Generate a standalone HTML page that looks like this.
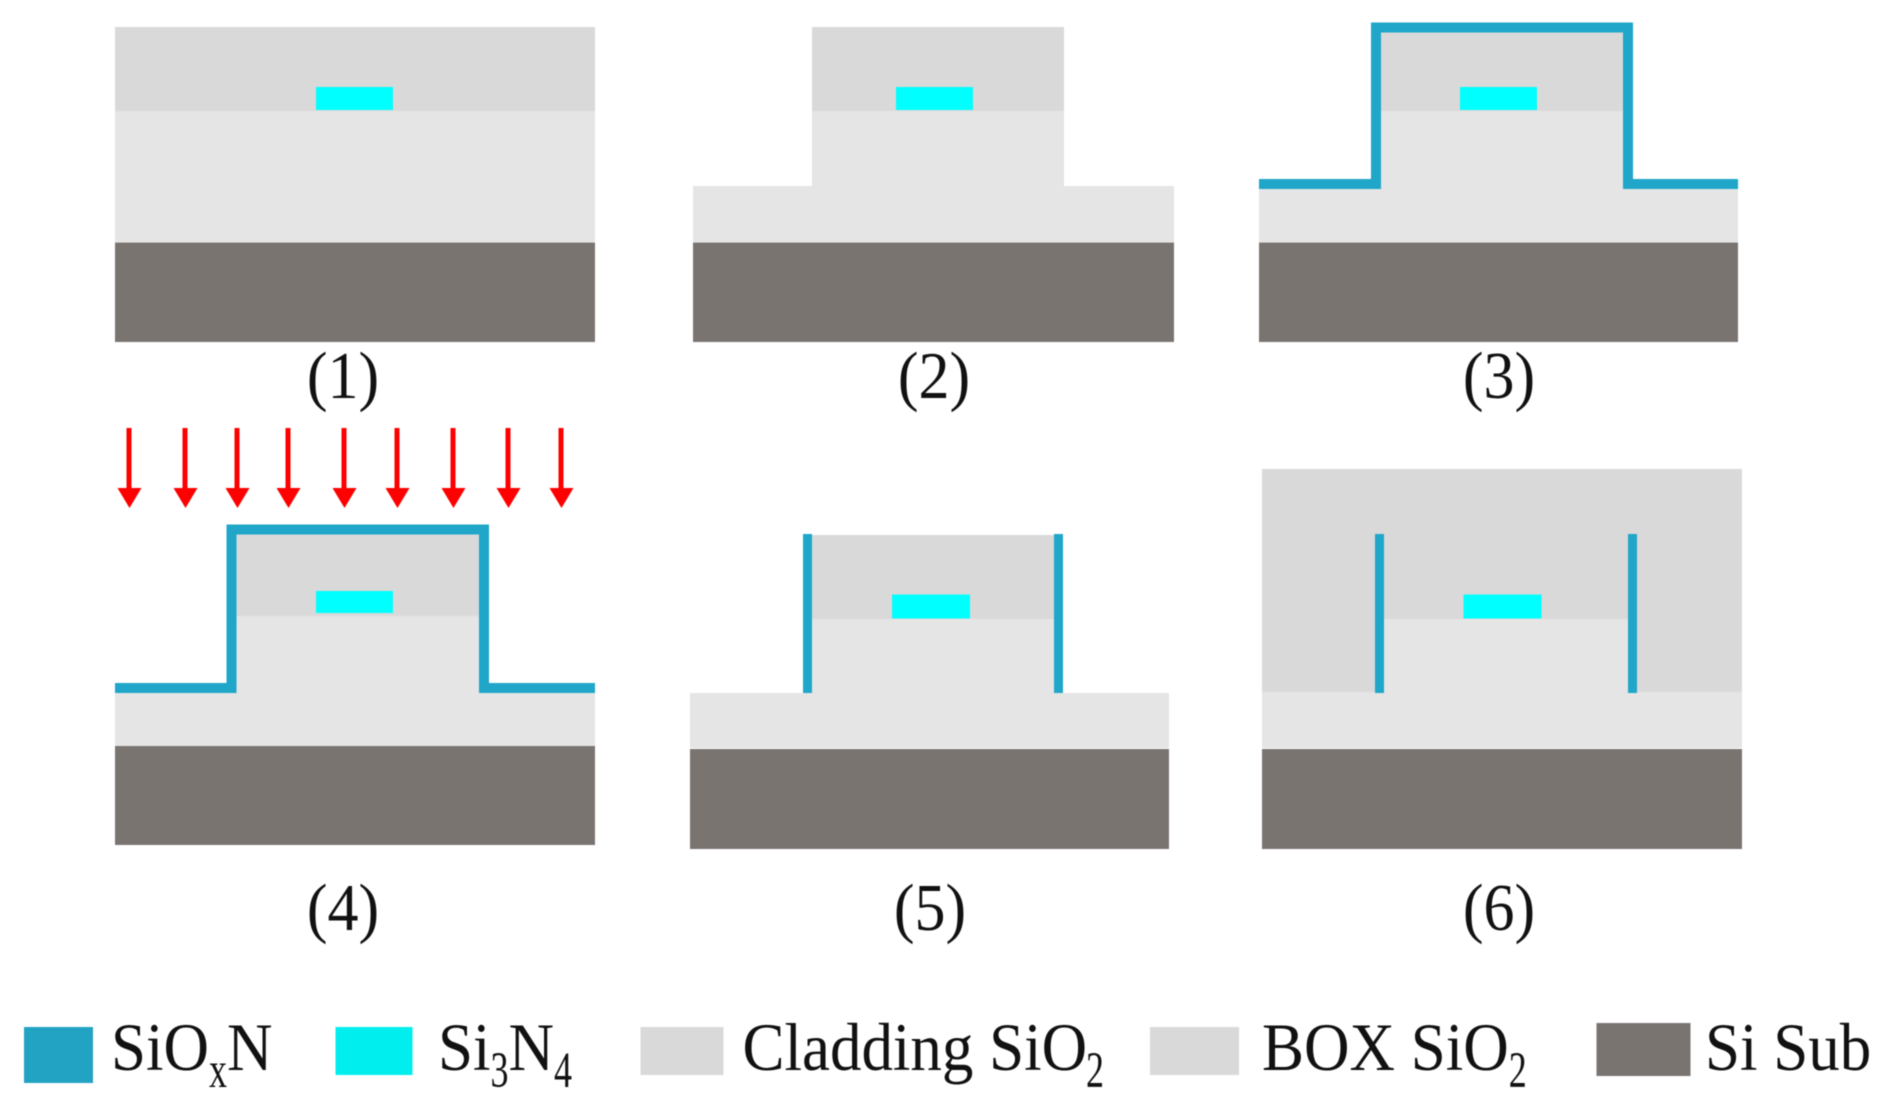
<!DOCTYPE html>
<html><head><meta charset="utf-8"><style>
html,body{margin:0;padding:0;background:#fff;width:1890px;height:1102px;overflow:hidden}
svg{display:block;filter:blur(.5px)}
text{font-family:"Liberation Serif",serif;fill:#111}
</style></head><body>
<svg width="1890" height="1102" viewBox="0 0 1890 1102" xmlns="http://www.w3.org/2000/svg">
<rect width="1890" height="1102" fill="#fff"/>
<!-- Panel 1 -->
<rect x="115" y="27" width="480" height="84" fill="#d9d9d9"/>
<rect x="115" y="111" width="480" height="131" fill="#e5e5e5"/>
<rect x="115" y="242.500" width="480" height="99.500" fill="#7a7471"/>
<rect x="316" y="87" width="77" height="23" fill="#00ffff"/>
<!-- Panel 2 -->
<rect x="812" y="27" width="252" height="84" fill="#d9d9d9"/>
<rect x="812" y="111" width="252" height="76" fill="#e5e5e5"/>
<rect x="693" y="186" width="481" height="56" fill="#e5e5e5"/>
<rect x="693" y="242.500" width="481" height="99.500" fill="#7a7471"/>
<rect x="896" y="87" width="77" height="23" fill="#00ffff"/>
<!-- Panel 3 -->
<rect x="1376" y="30" width="252" height="81" fill="#d9d9d9"/>
<rect x="1376" y="111" width="252" height="78" fill="#e5e5e5"/>
<rect x="1259" y="185" width="479" height="57" fill="#e5e5e5"/>
<rect x="1259" y="242.500" width="479" height="99.500" fill="#7a7471"/>
<rect x="1460" y="87" width="77" height="23" fill="#00ffff"/>
<path d="M1259 184H1376V27.500H1628V184H1738" fill="none" stroke="#1fa6c9" stroke-width="10" stroke-linejoin="miter"/>
<!-- Panel 4 -->
<rect x="231" y="532" width="253" height="84" fill="#d9d9d9"/>
<rect x="231" y="616" width="253" height="80" fill="#e5e5e5"/>
<rect x="115" y="688" width="480" height="58" fill="#e5e5e5"/>
<rect x="115" y="746" width="480" height="99" fill="#7a7471"/>
<rect x="316" y="591" width="77" height="22" fill="#00ffff"/>
<path d="M115 688H231.500V529.500H484V688H595" fill="none" stroke="#1fa6c9" stroke-width="10"/>
<!-- Arrows -->
<g fill="#ff0000">
<path d="M126.500 428h5v60h10l-12 20-12-20h9z"/>
<path d="M182.500 428h5v60h10l-12 20-12-20h9z"/>
<path d="M234.500 428h5v60h10l-12 20-12-20h9z"/>
<path d="M285.500 428h5v60h10l-12 20-12-20h9z"/>
<path d="M341.500 428h5v60h10l-12 20-12-20h9z"/>
<path d="M394.500 428h5v60h10l-12 20-12-20h9z"/>
<path d="M450.500 428h5v60h10l-12 20-12-20h9z"/>
<path d="M505.500 428h5v60h10l-12 20-12-20h9z"/>
<path d="M558.500 428h5v60h10l-12 20-12-20h9z"/>
</g>
<!-- Panel 5 -->
<rect x="810" y="535" width="250" height="84" fill="#d9d9d9"/>
<rect x="810" y="619" width="250" height="76" fill="#e5e5e5"/>
<rect x="690" y="693" width="479" height="55" fill="#e5e5e5"/>
<rect x="690" y="749" width="479" height="100" fill="#7a7471"/>
<rect x="892" y="594.500" width="78" height="24" fill="#00ffff"/>
<rect x="803" y="534" width="9" height="159" fill="#1fa6c9"/>
<rect x="1054" y="534" width="9" height="159" fill="#1fa6c9"/>
<!-- Panel 6 -->
<rect x="1262" y="469" width="480" height="223" fill="#d9d9d9"/>
<rect x="1262" y="692" width="480" height="56" fill="#e5e5e5"/>
<rect x="1380" y="619" width="250" height="74" fill="#e5e5e5"/>
<rect x="1262" y="749" width="480" height="100" fill="#7a7471"/>
<rect x="1463.500" y="594.500" width="78" height="24" fill="#00ffff"/>
<rect x="1375" y="534" width="9" height="159" fill="#1fa6c9"/>
<rect x="1628" y="534" width="9" height="159" fill="#1fa6c9"/>
<!-- Labels -->
<g font-size="62" text-anchor="middle">
<text transform="translate(343,398) scale(1,1.08)">(1)</text>
<text transform="translate(934,398) scale(1,1.08)">(2)</text>
<text transform="translate(1499,398) scale(1,1.08)">(3)</text>
<text transform="translate(343,930) scale(1,1.08)">(4)</text>
<text transform="translate(930,930) scale(1,1.08)">(5)</text>
<text transform="translate(1499,930) scale(1,1.08)">(6)</text>
</g>
<!-- Legend -->
<rect x="24" y="1027" width="69" height="56" fill="#22a3c4"/>
<rect x="335.500" y="1027" width="77" height="48" fill="#00eeee"/>
<rect x="640.500" y="1027" width="83" height="48" fill="#d9d9d9"/>
<rect x="1150" y="1027" width="89" height="48" fill="#d9d9d9"/>
<rect x="1596.500" y="1023" width="94" height="53" fill="#7a7471"/>
<g font-size="63">
<text transform="translate(111,1070) scale(1,1.08)">SiO</text>
<text transform="translate(209,1087) scale(1,1.4)" font-size="36">x</text>
<text transform="translate(227,1070) scale(1,1.08)">N</text>
<text transform="translate(438,1070) scale(1,1.08)">Si</text>
<text transform="translate(490.500,1087) scale(1,1.4)" font-size="36">3</text>
<text transform="translate(508.500,1070) scale(1,1.08)">N</text>
<text transform="translate(554,1087) scale(1,1.4)" font-size="36">4</text>
<text transform="translate(742.500,1070) scale(1,1.08)">Cladding SiO</text>
<text transform="translate(1086,1087) scale(1,1.4)" font-size="36">2</text>
<text transform="translate(1262,1070) scale(1,1.08)">BOX SiO</text>
<text transform="translate(1508.800,1087) scale(1,1.4)" font-size="36">2</text>
<text transform="translate(1705,1070) scale(1,1.08)">Si Sub</text>
</g>
</svg>
</body></html>
